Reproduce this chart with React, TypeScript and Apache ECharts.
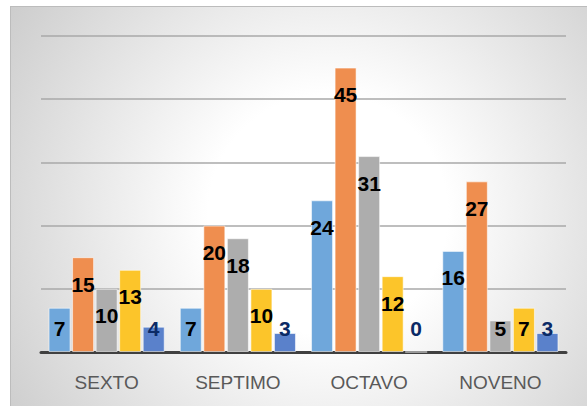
import React, { useEffect, useRef } from "react";
import * as echarts from "echarts";

const categories = ["SEXTO", "SEPTIMO", "OCTAVO", "NOVENO"];
const serie1 = [7, 7, 24, 16];
const serie2 = [15, 20, 45, 27];
const serie3 = [10, 18, 31, 5];
const serie4 = [13, 10, 12, 7];
const serie5 = [4, 3, 0, 3];
const yTicks = [0, 10, 20, 30, 40, 50];

const seriesColors = ["#6FA7DB", "#EF8E4F", "#ADADAD", "#FCC52A", "#5A81CB"];
const labelColors = ["#000000", "#000000", "#000000", "#000000", "#0B2A66"];

function makeData(values: number[], labelColor: string) {
  return values.map((v) => ({
    value: v,
    label:
      v >= 8
        ? { position: "insideTop", distance: 16, color: labelColor }
        : { position: "insideBottom", distance: 13, color: labelColor },
  }));
}

export default function App() {
  const ref = useRef<HTMLDivElement>(null);
  useEffect(() => {
    if (!ref.current) return;
    const chart = echarts.init(ref.current, undefined, { renderer: "svg" });
    const all = [serie1, serie2, serie3, serie4, serie5];
    chart.setOption({
      animation: false,
      backgroundColor: "transparent",
      grid: { left: 41, right: 21, top: 36, bottom: 54, containLabel: false },
      xAxis: {
        type: "category",
        data: categories,
        axisLine: { show: true, lineStyle: { color: "#404040", width: 3 } },
        axisTick: { show: false },
        axisLabel: {
          color: "#595959",
          fontSize: 19,
          fontFamily: "Liberation Sans",
          margin: 21,
        },
      },
      yAxis: {
        type: "value",
        min: yTicks[0],
        max: yTicks[yTicks.length - 1],
        interval: 10,
        axisLabel: { show: false },
        axisLine: { show: false },
        axisTick: { show: false },
        splitLine: { lineStyle: { color: "#a9a9a9", width: 1.5 } },
      },
      series: all.map((vals, i) => ({
        type: "bar",
        name: "Serie " + (i + 1),
        data: makeData(vals, labelColors[i]),
        barWidth: 22,
        barGap: "7%",
        itemStyle: {
          color: seriesColors[i],
          borderColor: "rgba(255,255,255,0.55)",
          borderWidth: 1,
        },
        label: {
          show: true,
          fontSize: 21,
          fontWeight: "bold",
          fontFamily: "Liberation Sans",
          lineHeight: 22,
        },
      })),
    });
    return () => chart.dispose();
  }, []);

  return (
    <div
      style={{
        position: "fixed",
        left: 0,
        top: 0,
        width: 587,
        height: 406,
        background: "#ffffff",
        overflow: "hidden",
      }}
    >
      <div
        style={{
          position: "absolute",
          left: 10,
          top: 6,
          width: 577,
          height: 400,
          boxSizing: "border-box",
          borderTop: "1px solid #bcbcbc",
          borderLeft: "1px solid #bcbcbc",
          background:
            "radial-gradient(circle at 55% 52%, #ffffff 0px, #ffffff 120px, #e2e2e2 270px, #cbcbcb 390px, #c4c4c4 450px)",
        }}
      />
      <div
        ref={ref}
        style={{ position: "absolute", left: 0, top: 0, width: 587, height: 406 }}
      />
    </div>
  );
}
